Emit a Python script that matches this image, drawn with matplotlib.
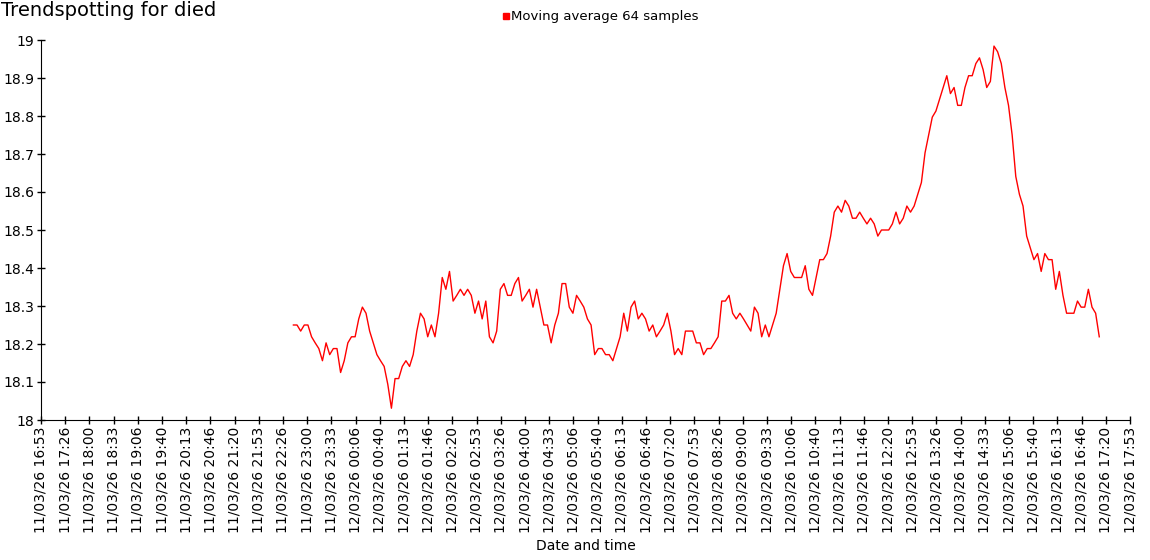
import matplotlib.pyplot as plt
import matplotlib.dates as mdates
import numpy as np
import pandas as pd
from matplotlib.lines import Line2D
from matplotlib.ticker import FuncFormatter

# moving average readings, one every 5 minutes
start = "2026-03-11 22:41"
temps = [
    18.25, 18.25, 18.234, 18.25, 18.25, 18.219, 18.203, 18.188, 18.156, 18.203,
    18.172, 18.188, 18.188, 18.125, 18.156, 18.203, 18.219, 18.219, 18.266, 18.297,
    18.281, 18.234, 18.203, 18.172, 18.156, 18.141, 18.094, 18.031, 18.109, 18.109,
    18.141, 18.156, 18.141, 18.172, 18.234, 18.281, 18.266, 18.219, 18.25, 18.219,
    18.281, 18.375, 18.344, 18.391, 18.313, 18.328, 18.344, 18.328, 18.344, 18.328,
    18.281, 18.313, 18.266, 18.313, 18.219,
    18.203, 18.234, 18.344, 18.359, 18.328, 18.328, 18.359, 18.375, 18.313, 18.328,
    18.344, 18.297, 18.344, 18.297, 18.25, 18.25, 18.203, 18.25, 18.281, 18.359,
    18.359, 18.297, 18.281, 18.328, 18.313, 18.297, 18.266, 18.25, 18.172, 18.188,
    18.188, 18.172, 18.172, 18.156, 18.188, 18.219, 18.281, 18.234, 18.297, 18.313,
    18.266, 18.281, 18.266, 18.234, 18.25, 18.219, 18.234, 18.25, 18.281, 18.234,
    18.172, 18.188, 18.172, 18.234,
    18.234, 18.234, 18.203, 18.203, 18.172, 18.188, 18.188, 18.203, 18.219, 18.313,
    18.313, 18.328, 18.281, 18.266, 18.281, 18.266, 18.25, 18.234, 18.297, 18.281,
    18.219, 18.25, 18.219, 18.25, 18.281, 18.344, 18.406, 18.438, 18.391, 18.375,
    18.375, 18.375, 18.406, 18.344, 18.328, 18.375, 18.422, 18.422, 18.438, 18.484,
    18.547, 18.563, 18.547, 18.578, 18.563, 18.531, 18.531, 18.547, 18.531, 18.516,
    18.531, 18.516, 18.484, 18.5, 18.5, 18.5,
    18.516, 18.547, 18.516, 18.531, 18.563, 18.547, 18.563, 18.594, 18.625, 18.703,
    18.75, 18.797, 18.813, 18.844, 18.875, 18.906, 18.859, 18.875, 18.828, 18.828,
    18.875, 18.906, 18.906, 18.938, 18.953, 18.922, 18.875, 18.891, 18.984, 18.969,
    18.938, 18.875, 18.828, 18.75, 18.641, 18.594, 18.563, 18.484, 18.453, 18.422,
    18.438, 18.391, 18.438, 18.422, 18.422, 18.344, 18.391, 18.328, 18.281, 18.281,
    18.281, 18.313, 18.297, 18.297, 18.344, 18.297, 18.281, 18.219,
]
tick_start = "2026-03-11 16:53:20"
n_ticks = 46
y_ticks = [18, 18.1, 18.2, 18.3, 18.4, 18.5, 18.6, 18.7, 18.8, 18.9, 19]

times = pd.date_range(start, periods=len(temps), freq="5min").to_pydatetime()
ticks = pd.date_range(tick_start, periods=n_ticks, freq="2000s").to_pydatetime()

fig = plt.figure(figsize=(11.5, 5.6), dpi=100)
ax = fig.add_axes([41 / 1150, 140 / 560, 1089 / 1150, 380 / 560])
ax.plot(times, temps, color='#ff0000', lw=1)

ax.set_xlim(ticks[0], ticks[-1])
ax.set_ylim(18, 19)
ax.set_yticks(y_ticks)
ax.yaxis.set_major_formatter(FuncFormatter(lambda v, p: f'{v:g}'))
ax.set_xticks(ticks)
ax.xaxis.set_major_formatter(mdates.DateFormatter('%d/%m/%y %H:%M'))
plt.setp(ax.get_xticklabels(), rotation=90)
ax.tick_params(direction='inout', length=6, width=1, labelsize=10, pad=2)
ax.spines['top'].set_visible(False)
ax.spines['right'].set_visible(False)
ax.set_xlabel('Date and time', fontsize=10, labelpad=4)

fig.text(0.001, 1 - 16 / 560, 'Trendspotting for died', fontsize=14,
         ha='left', va='baseline')
# axis unit, clipped at the left edge like in the original
fig.text(-0.004, 1 - 230 / 560, '°C', rotation=90, ha='center', va='center', fontsize=10)

handle = Line2D([], [], marker='s', color='#ff0000', ls='none', markersize=5)
fig.legend([handle], ['Moving average 64 samples'], loc='center',
           bbox_to_anchor=(0.522, 0.97), frameon=False, fontsize=9.5,
           handletextpad=0.1, handlelength=0.6, borderpad=0)

fig.savefig('out.png', dpi=100)
